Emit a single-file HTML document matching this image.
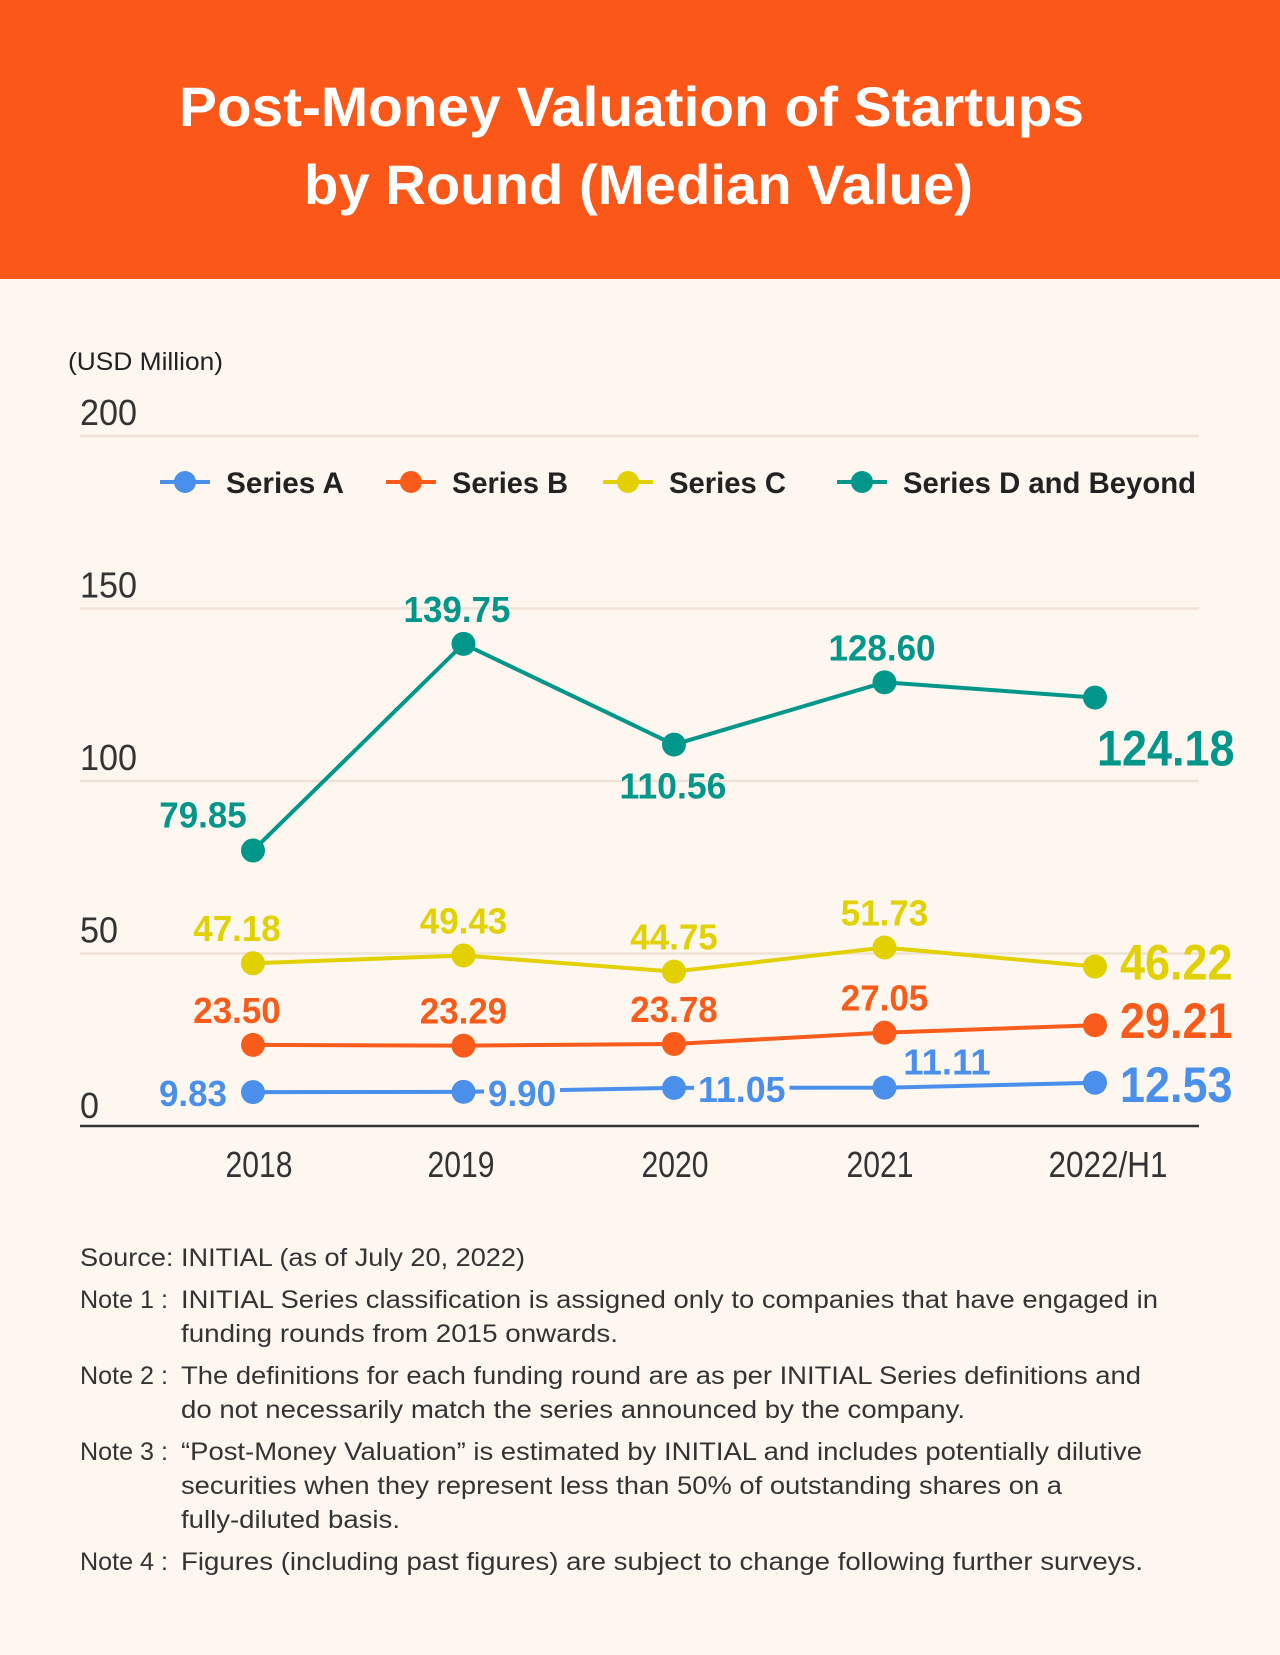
<!DOCTYPE html>
<html><head><meta charset="utf-8"><style>
html,body{margin:0;padding:0;background:#fdf7f0;}
body{width:1280px;height:1650px;overflow:hidden;font-family:"Liberation Sans",sans-serif;}
svg text{font-family:"Liberation Sans",sans-serif;}
</style></head><body>
<svg width="1280" height="1650" viewBox="0 0 1280 1650">
<rect x="0" y="0" width="1280" height="1650" fill="#fdf7f0"/>
<rect x="0" y="0" width="1280" height="279" fill="#fa5719"/>
<text x="179" y="126" textLength="905" lengthAdjust="spacingAndGlyphs" fill="#fff" font-size="56" font-weight="bold">Post-Money Valuation of Startups</text>
<text x="304" y="204" textLength="669" lengthAdjust="spacingAndGlyphs" fill="#fff" font-size="56" font-weight="bold">by Round (Median Value)</text>
<text x="68" y="370" textLength="155" lengthAdjust="spacingAndGlyphs" fill="#222" font-size="25">(USD Million)</text>
<g id="grid"></g>
<g id="legend"></g>
<g id="series"></g>
<g id="labels"></g>
<g fill="#333" font-size="25">
<text x="80" y="1266" textLength="445" lengthAdjust="spacingAndGlyphs">Source: INITIAL (as of July 20, 2022)</text>
<text x="80" y="1308" textLength="88" lengthAdjust="spacingAndGlyphs">Note 1 :</text>
<text x="181" y="1308" textLength="977" lengthAdjust="spacingAndGlyphs">INITIAL Series classification is assigned only to companies that have engaged in</text>
<text x="181" y="1342" textLength="437" lengthAdjust="spacingAndGlyphs">funding rounds from 2015 onwards.</text>
<text x="80" y="1384" textLength="88" lengthAdjust="spacingAndGlyphs">Note 2 :</text>
<text x="181" y="1384" textLength="960" lengthAdjust="spacingAndGlyphs">The definitions for each funding round are as per INITIAL Series definitions and</text>
<text x="181" y="1418" textLength="784" lengthAdjust="spacingAndGlyphs">do not necessarily match the series announced by the company.</text>
<text x="80" y="1460" textLength="88" lengthAdjust="spacingAndGlyphs">Note 3 :</text>
<text x="181" y="1460" textLength="961" lengthAdjust="spacingAndGlyphs">“Post-Money Valuation” is estimated by INITIAL and includes potentially dilutive</text>
<text x="181" y="1494" textLength="881" lengthAdjust="spacingAndGlyphs">securities when they represent less than 50% of outstanding shares on a</text>
<text x="181" y="1528" textLength="219" lengthAdjust="spacingAndGlyphs">fully-diluted basis.</text>
<text x="80" y="1570" textLength="88" lengthAdjust="spacingAndGlyphs">Note 4 :</text>
<text x="181" y="1570" textLength="962" lengthAdjust="spacingAndGlyphs">Figures (including past figures) are subject to change following further surveys.</text>
</g>
</svg>
<script>
const categories = ["2018","2019","2020","2021","2022/H1"];
const seriesNames = ["Series A","Series B","Series C","Series D and Beyond"];
const seriesA = [9.83, 9.90, 11.05, 11.11, 12.53];
const seriesB = [23.50, 23.29, 23.78, 27.05, 29.21];
const seriesC = [47.18, 49.43, 44.75, 51.73, 46.22];
const seriesD = [79.85, 139.75, 110.56, 128.60, 124.18];
const yTicks = [0, 50, 100, 150, 200];

const NS = "http://www.w3.org/2000/svg";
const colors = ["#4a8fec","#f95b1b","#e2d000","#00968a"];
const allSeries = [seriesA, seriesB, seriesC, seriesD];
const slugs = ["series-a","series-b","series-c","series-d"];
function x(i){ return 253 + i * 210.5; }
function y(v){ return 1126 - v * 3.45; }
function mk(tag, attrs, parent){ const e = document.createElementNS(NS, tag); for (const k in attrs) e.setAttribute(k, attrs[k]); parent.appendChild(e); return e; }

const grid = document.getElementById('grid');
yTicks.forEach(t => {
  if (t > 0) {
    const l = mk('line', {x1:80, x2:1199, y1:y(t), y2:y(t), stroke:'#efe3d8', 'stroke-width':2.5}, grid);
    
    
  }
  const s = String(t);
  const tx = mk('text', {x:80, y:y(t) - 11 - (t===0?-3:0), 'font-size':36, fill:'#333', textLength: s.length*19, lengthAdjust:'spacingAndGlyphs'}, grid);
  tx.textContent = t;
  
  
});
const ax = mk('line', {x1:80, x2:1199, y1:1126, y2:1126, stroke:'#333', 'stroke-width':2.5}, grid);


const xCenters = [259, 461, 675, 880, 1108];
categories.forEach((c, i) => {
  const w = c.length === 4 ? 67 : 119;
  const tx = mk('text', {x:xCenters[i] - w/2, y:1177, 'font-size':36, fill:'#333', textLength:w, lengthAdjust:'spacingAndGlyphs'}, grid);
  tx.textContent = c;
  
  
});

const legend = document.getElementById('legend');
const legX = [160, 386, 603, 837];
const legW = [118, 116, 117, 293];
seriesNames.forEach((n, k) => {
  const g = mk('g', {}, legend);
  
  
  mk('line', {x1:legX[k], x2:legX[k]+50, y1:482, y2:482, stroke:colors[k], 'stroke-width':4}, g);
  mk('circle', {cx:legX[k]+25, cy:482, r:11, fill:colors[k]}, g);
  const t = mk('text', {x:legX[k]+66, y:493, 'font-size':30, 'font-weight':'bold', fill:'#222', textLength:legW[k], lengthAdjust:'spacingAndGlyphs'}, g);
  t.textContent = n;
});

const sg = document.getElementById('series');
allSeries.forEach((s, k) => {
  const g = mk('g', {}, sg);
  
  
  mk('polyline', {points: s.map((v,i)=>x(i)+','+y(v)).join(' '), fill:'none', stroke:colors[k], 'stroke-width':4}, g);
  s.forEach((v,i) => {
    const c = mk('circle', {cx:x(i), cy:y(v), r:12, fill:colors[k]}, g);
    
    
  });
});

const lg = document.getElementById('labels');
function label(k, i, tx, ty, anchor, size, bg, factor){
  const v = allSeries[k][i].toFixed(2);
  const w = (v.length - 0.5) * (size * (factor || 0.54));
  let sx = tx;
  if (anchor === 'middle') sx = tx - w/2;
  if (anchor === 'end') sx = tx - w;
  if (bg) mk('rect', {x:sx - 4, y:ty - size*0.8, width:w + 8, height:size*0.9, fill:'#fdf7f0'}, lg);
  const t = mk('text', {x:sx, y:ty, 'font-size':size, 'font-weight':'bold', fill:colors[k], textLength:w, lengthAdjust:'spacingAndGlyphs'}, lg);
  t.textContent = v;
  
  
}
[0,1,2,3].forEach(k => {
  const v = allSeries[k][4];
  const off = [19, 13, 13, 68][k];
  label(k, 4, k === 3 ? 1097 : 1120, y(v) + off, 'start', 50, false, 0.5);
});
label(3, 0, 203, y(seriesD[0]) - 23, 'middle', 36);
label(3, 1, 457, y(seriesD[1]) - 22, 'middle', 36);
label(3, 2, 673, y(seriesD[2]) + 54, 'middle', 36);
label(3, 3, 882, y(seriesD[3]) - 22, 'middle', 36);
[2,1].forEach(k => { for (let i = 0; i < 4; i++) label(k, i, x(i) + (i===0?-16:0), y(allSeries[k][i]) - 22, 'middle', 36); });
label(0, 0, 227, y(seriesA[0]) + 14, 'end', 36);
label(0, 1, 488, y(seriesA[1]) + 14, 'start', 36, true);
label(0, 2, 698, y(seriesA[2]) + 14, 'start', 36, true);
label(0, 3, 947, y(seriesA[3]) - 13, 'middle', 36);
</script>
</body></html>
